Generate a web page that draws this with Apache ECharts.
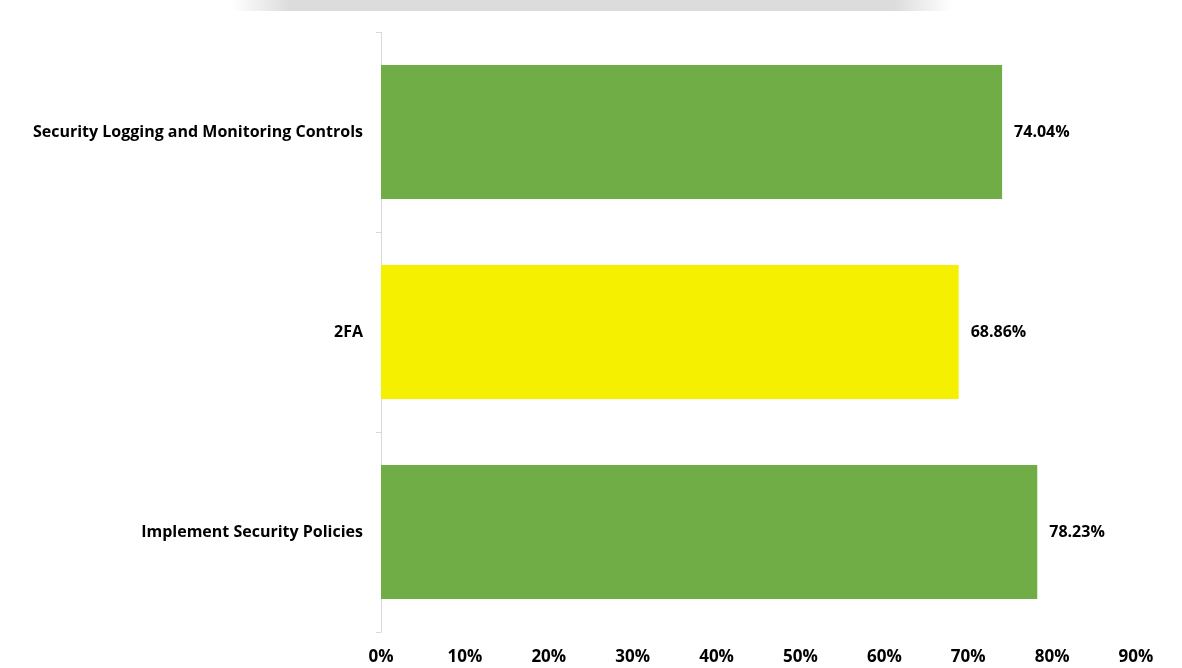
<!DOCTYPE html>
<html>
<head>
<meta charset="utf-8">
<script src="https://cdn.jsdelivr.net/npm/echarts@6/dist/echarts.min.js"></script>
<style>
  html, body { margin: 0; padding: 0; background: #fff; }
  #chart { width: 1182px; height: 668px; }
</style>
</head>
<body>
<div id="chart"></div>
<script>
// categories listed bottom to top
var categories = ['Implement Security Policies', '2FA', 'Security Logging and Monitoring Controls'];
var values = [78.23, 68.86, 74.04];
var barColors = ['#70AD47', '#F5F000', '#70AD47'];
var tickMax = 90;

var chart = echarts.init(document.getElementById('chart'));

var option = {
    backgroundColor: '#ffffff',
    animation: false,
    textStyle: { fontFamily: 'Open Sans' },
    graphic: [
        {
            type: 'rect',
            left: 232,
            top: 0,
            shape: { width: 720, height: 11 },
            style: {
                fill: new echarts.graphic.LinearGradient(0, 0, 1, 0, [
                    { offset: 0, color: 'rgba(220,220,220,0)' },
                    { offset: 0.08, color: 'rgba(220,220,220,1)' },
                    { offset: 0.92, color: 'rgba(220,220,220,1)' },
                    { offset: 1, color: 'rgba(220,220,220,0)' }
                ])
            },
            silent: true
        }
    ],
    grid: {
        left: 381,
        right: 46,
        top: 32,
        bottom: 36,
        containLabel: false
    },
    xAxis: {
        type: 'value',
        min: 0,
        max: tickMax,
        interval: 10,
        axisLine: { show: false },
        axisTick: { show: false },
        splitLine: { show: false },
        axisLabel: {
            formatter: '{value}%',
            color: '#000',
            fontWeight: 'bold',
            fontSize: 17,
            margin: 17
        }
    },
    yAxis: {
        type: 'category',
        data: categories,
        axisLine: { show: true, lineStyle: { color: '#d9d9d9', width: 1 } },
        axisTick: { show: true, length: 5, lineStyle: { color: '#d9d9d9' } },
        axisLabel: {
            color: '#000',
            fontWeight: 'bold',
            fontSize: 16,
            margin: 18
        }
    },
    series: [
        {
            type: 'bar',
            barWidth: '67%',
            data: values.map(function (v, i) {
                return { value: v, itemStyle: { color: barColors[i] } };
            }),
            label: {
                show: true,
                position: 'right',
                distance: 12,
                formatter: function (p) { return p.value.toFixed(2) + '%'; },
                color: '#000',
                fontWeight: 'bold',
                fontSize: 16
            }
        }
    ]
};

chart.setOption(option);
</script>
</body>
</html>
